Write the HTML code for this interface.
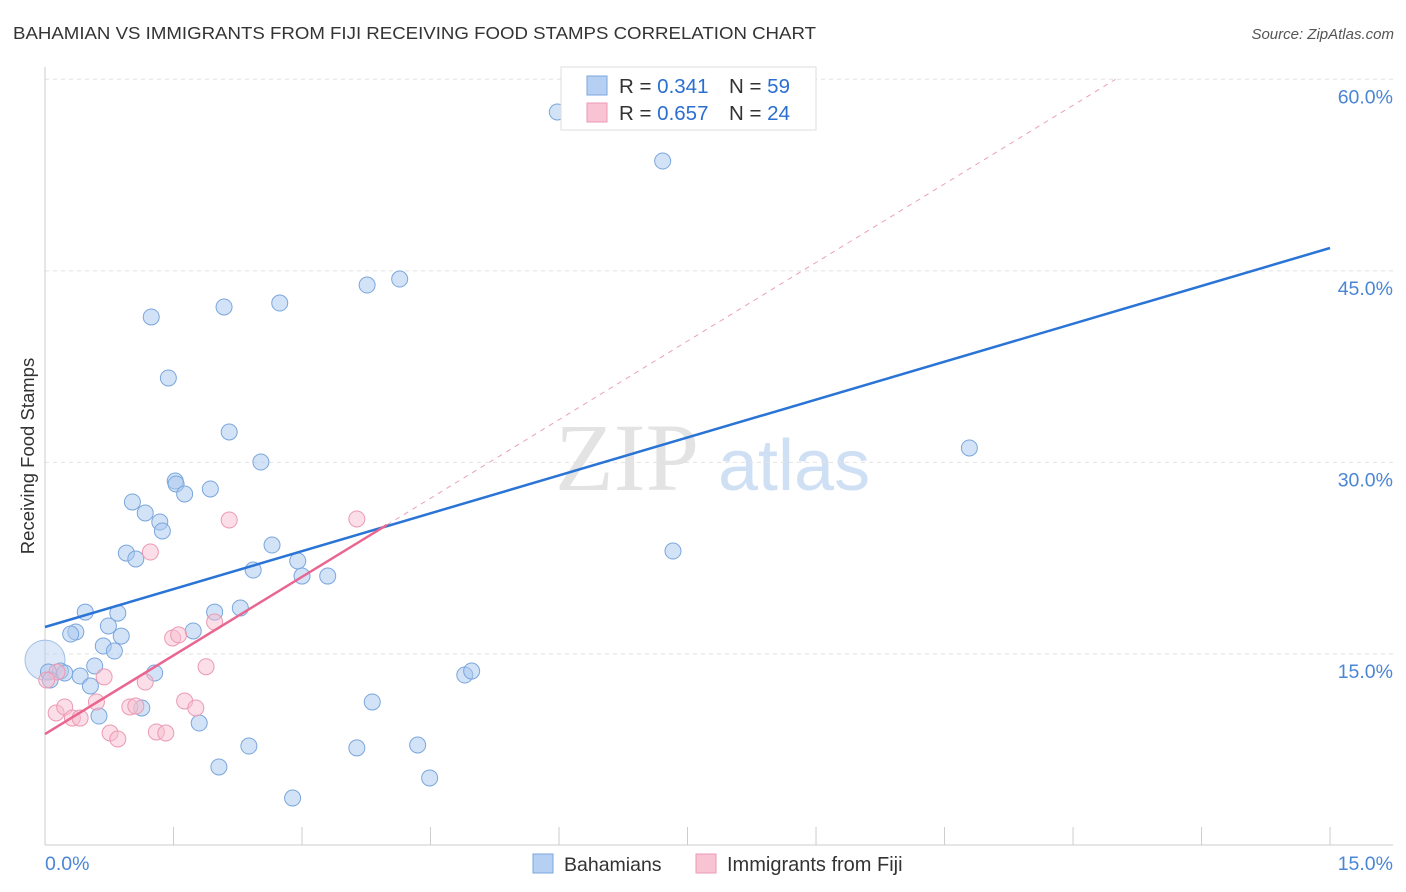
<!DOCTYPE html>
<html><head><meta charset="utf-8"><style>
body{margin:0;background:#fff;font-family:"Liberation Sans",sans-serif;}
svg{display:block}
</style></head><body>
<svg id="chart" width="1406" height="892">
<text x="13" y="39" font-size="17.5" fill="#333" textLength="803" lengthAdjust="spacingAndGlyphs">BAHAMIAN VS IMMIGRANTS FROM FIJI RECEIVING FOOD STAMPS CORRELATION CHART</text>
<text x="1394" y="39" font-size="15" fill="#555" font-style="italic" text-anchor="end">Source: ZipAtlas.com</text>
<g>
<text x="555" y="490" font-size="96" font-family="Liberation Serif,serif" fill="#e3e3e3">ZIP</text>
<text x="718" y="490" font-size="72" fill="#cfe0f5">atlas</text>
</g>
<g id="grid"></g>
<g id="axes"></g>
<g id="marks"></g>
<text transform="translate(34,456) rotate(-90)" font-size="18.5" fill="#333" text-anchor="middle">Receiving Food Stamps</text>
<g>
<rect x="561" y="67" width="255" height="63" fill="#fff" stroke="#ddd"/>
<rect x="587" y="76" width="20" height="19" fill="#b6d0f3" stroke="#7aa6dc"/>
<rect x="587" y="103" width="20" height="19" fill="#f8c3d3" stroke="#eb9ab3"/>
<text x="619" y="93" font-size="20.5" fill="#333">R = <tspan fill="#2a6fd0">0.341</tspan></text>
<text x="729" y="93" font-size="20.5" fill="#333">N = <tspan fill="#2a6fd0">59</tspan></text>
<text x="619" y="120" font-size="20.5" fill="#333">R = <tspan fill="#2a6fd0">0.657</tspan></text>
<text x="729" y="120" font-size="20.5" fill="#333">N = <tspan fill="#2a6fd0">24</tspan></text>
</g>
<g>
<rect x="533" y="854" width="20" height="19" fill="#b6d0f3" stroke="#7aa6dc"/>
<text x="564" y="871" font-size="19.5" fill="#333">Bahamians</text>
<rect x="696" y="854" width="20" height="19" fill="#f8c3d3" stroke="#eb9ab3"/>
<text x="727" y="871" font-size="20" fill="#333">Immigrants from Fiji</text>
</g>
</svg>
<script>
const blueX=[5.98,7.21,1.24,2.09,2.74,3.76,4.14,1.44,2.15,2.52,10.79,1.52,1.53,1.93,1.63,1.02,1.17,1.34,1.37,0.95,1.06,2.65,7.33,2.95,2.43,3.0,3.3,0.47,0.85,1.98,2.28,0.74,0.36,0.30,0.89,1.73,0.68,0.81,0.58,1.28,0.18,0.04,0.23,0.41,0.53,4.9,4.98,0.63,1.13,1.8,3.82,2.38,3.64,4.35,2.03,4.49,2.89,0.06];
const blueY=[57.44,53.6,41.39,42.17,42.48,43.89,44.36,36.61,32.38,30.03,31.13,28.54,28.31,27.92,27.53,26.9,26.04,25.33,24.63,22.9,22.44,23.53,23.06,22.28,21.57,21.1,21.1,18.28,18.2,18.28,18.6,17.19,16.72,16.56,16.4,16.8,15.62,15.23,14.06,13.51,13.66,13.59,13.51,13.27,12.49,13.35,13.66,10.14,10.77,9.59,11.24,7.79,7.64,7.87,6.15,5.29,3.72,12.96];
const pinkX=[0.14,0.02,0.13,0.23,0.32,0.41,0.6,0.69,0.76,0.85,0.99,1.06,1.17,1.23,1.3,1.41,1.49,1.56,1.63,1.76,1.88,1.98,2.15,3.64];
const pinkY=[13.59,12.96,10.38,10.85,9.98,9.98,11.24,13.2,8.81,8.34,10.85,10.92,12.8,22.98,8.89,8.81,16.25,16.49,11.32,10.77,14.0,17.5,25.49,25.57];
const bigX=[0.0];const bigY=[14.52];
const blueLine=[17.11,46.79];
const pinkLine=[8.73,25.1,3.99];
const yTicks=[15,30,45,60];
const yTickLabels=["15.0%","30.0%","45.0%","60.0%"];
const xTicks=[0,1.5,3,4.5,6,7.5,9,10.5,12,13.5,15];
const NS="http://www.w3.org/2000/svg";
const sx=v=>45+v*85.67, sy=v=>845.5-v*12.77;
function mk(tag,attrs,parent){const e=document.createElementNS(NS,tag);for(const k in attrs)e.setAttribute(k,attrs[k]);document.getElementById(parent).appendChild(e);return e;}
yTicks.forEach((t,i)=>{
 const g=mk('line',{x1:45,x2:1393,y1:sy(t),y2:sy(t),stroke:'#e2e2e2','stroke-dasharray':'4,4'},'grid');
 
 
 const l=mk('text',{x:1393,y:sy(t)+24,'font-size':19.5,fill:'#4a86d4','text-anchor':'end'},'axes');
 l.textContent=yTickLabels[i];
 
 
});
const ax=mk('line',{x1:45,x2:45,y1:67,y2:845,stroke:'#ccc'},'axes');


const bx=mk('line',{x1:45,x2:1393,y1:845,y2:845,stroke:'#ccc'},'axes');


xTicks.forEach(t=>{
 const tk=mk('line',{x1:sx(t),x2:sx(t),y1:827,y2:845,stroke:'#ccc'},'axes');
 
 
});
const x0=mk('text',{x:45,y:870,'font-size':19.5,fill:'#4a86d4'},'axes');x0.textContent='0.0%';


const x1=mk('text',{x:1393,y:870,'font-size':19.5,fill:'#4a86d4','text-anchor':'end'},'axes');x1.textContent='15.0%';


bigX.forEach((x,i)=>{
 const c=mk('circle',{cx:sx(x),cy:sy(bigY[i]),r:20,fill:'rgba(180,206,240,0.45)',stroke:'#a0c0e6'},'marks');
 
 
});
blueX.forEach((x,i)=>{
 const c=mk('circle',{cx:sx(x),cy:sy(blueY[i]),r:8,fill:'rgba(168,200,240,0.5)',stroke:'#7aa6dc'},'marks');
 
 
});
pinkX.forEach((x,i)=>{
 const c=mk('circle',{cx:sx(x),cy:sy(pinkY[i]),r:8,fill:'rgba(248,190,208,0.5)',stroke:'#eb9ab3'},'marks');
 
 
});
const slope=(pinkLine[1]-pinkLine[0])/pinkLine[2];
const xEnd=(60-pinkLine[0])/slope;
const pd=mk('line',{x1:sx(pinkLine[2]),y1:sy(pinkLine[1]),x2:sx(xEnd),y2:sy(60),stroke:'#eaa0b8','stroke-dasharray':'5,5','stroke-width':1},'marks');


const bl=mk('line',{x1:sx(0),y1:sy(blueLine[0]),x2:sx(15),y2:sy(blueLine[1]),stroke:'#2a74d6','stroke-width':2.5},'marks');


const pl=mk('line',{x1:sx(0),y1:sy(pinkLine[0]),x2:sx(pinkLine[2]),y2:sy(pinkLine[1]),stroke:'#e8668f','stroke-width':2.5},'marks');


</script>
</body></html>
